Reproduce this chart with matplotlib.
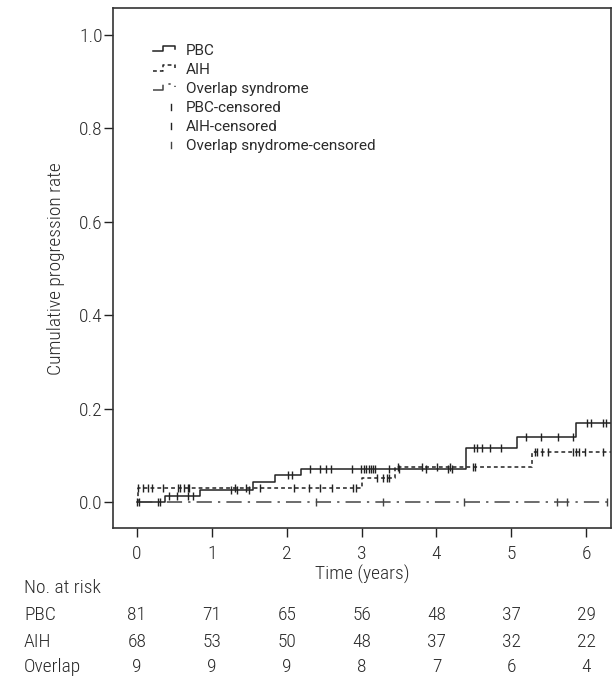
import matplotlib
matplotlib.use('Agg')
import matplotlib.pyplot as plt
import matplotlib.transforms as mtransforms
from matplotlib.legend_handler import HandlerBase
from matplotlib.lines import Line2D
from matplotlib import font_manager

# narrow font for axes / table, wider one for the legend
names = set(f.name for f in font_manager.fontManager.ttflist)
narrow = 'DejaVu Sans'
for fam in ['Roboto Condensed', 'Open Sans Condensed', 'Fira Sans Condensed',
            'PT Sans Narrow', 'Liberation Sans Narrow', 'Open Sans']:
    if fam in names:
        narrow = fam
        break
wide = 'DejaVu Sans'
for fam in ['Selawik', 'Segoe UI', 'Roboto', 'Open Sans']:
    if fam in names:
        wide = fam
        break
plt.rcParams['font.family'] = [narrow, 'DejaVu Sans']
plt.rcParams['font.weight'] = 'light'
plt.rcParams['axes.labelweight'] = 'light'

# Kaplan-Meier step data (time in years, cumulative progression)
pbc_time = [0, 0.37, 0.84, 1.55, 1.84, 2.19, 4.40, 5.08, 5.87, 6.5]
pbc_rate = [0, 0.012, 0.026, 0.043, 0.058, 0.071, 0.115, 0.139, 0.168, 0.168]
aih_time = [0, 0.01, 3.00, 3.45, 5.27, 6.5]
aih_rate = [0, 0.029, 0.051, 0.075, 0.107, 0.107]
ovl_time = [0, 6.5]
ovl_rate = [0, 0]

# censored observations
pbc_cens = [0.0, 0.03, 0.28, 0.31, 0.43, 0.54, 0.68, 0.75, 1.25, 1.34, 1.49,
            2.02, 2.07, 2.31, 2.45, 2.53, 2.59, 2.87, 2.99, 3.03, 3.06, 3.10,
            3.12, 3.15, 3.18, 3.37, 3.50, 3.86, 4.16, 4.21, 4.50, 4.54, 4.61,
            4.71, 4.86, 5.19, 5.40, 5.62, 5.83, 6.01, 6.06, 6.23, 6.27]
aih_cens = [0.01, 0.08, 0.15, 0.20, 0.35, 0.55, 0.57, 0.63, 0.68, 0.70, 1.31,
            1.45, 1.65, 2.10, 2.30, 2.45, 2.61, 2.89, 2.93, 3.20, 3.28, 3.34,
            3.36, 3.48, 3.81, 4.01, 4.18, 4.49, 4.52, 5.31, 5.34, 5.41, 5.49,
            5.82, 5.86, 5.91, 5.98, 6.23]
ovl_cens = [2.39, 3.28, 4.37, 5.61, 5.75, 6.28]

# number at risk table
risk_times = [0, 1, 2, 3, 4, 5, 6]
risk_groups = ['PBC', 'AIH', 'Overlap']
risk_pbc = [81, 71, 65, 56, 48, 37, 29]
risk_aih = [68, 53, 50, 48, 37, 32, 22]
risk_ovl = [9, 9, 9, 8, 7, 6, 4]

LS_PBC = '-'
LS_AIH = (0, (2.5, 2.0))
LS_OVL = (0, (10, 4, 1.5, 4))
FS = 14
TXT = '#2a2a2a'


def value_at(times, rates, t):
    v = rates[0]
    for ti, ri in zip(times, rates):
        if ti <= t:
            v = ri
    return v


class StepHandler(HandlerBase):
    def __init__(self, ls):
        super().__init__()
        self.ls = ls

    def create_artists(self, legend, orig_handle, xdescent, ydescent,
                       width, height, fontsize, trans):
        x0, y0 = -xdescent, -ydescent
        xs = [x0, x0 + width * 0.45, x0 + width * 0.45, x0 + width, x0 + width]
        ys = [y0 + height * 0.3, y0 + height * 0.3, y0 + height * 0.8,
              y0 + height * 0.8, y0 + height * 0.55]
        ln = Line2D(xs, ys, color=orig_handle.get_color(), linestyle=self.ls,
                    linewidth=orig_handle.get_linewidth(), transform=trans)
        return [ln]


class TickHandler(HandlerBase):
    def create_artists(self, legend, orig_handle, xdescent, ydescent,
                       width, height, fontsize, trans):
        x0, y0 = -xdescent, -ydescent
        ln = Line2D([x0 + width * 0.8, x0 + width * 0.8],
                    [y0 + height * 0.15, y0 + height * 0.7],
                    color=orig_handle.get_color(), linewidth=1.0, transform=trans)
        return [ln]


fig = plt.figure(figsize=(6.14, 6.79), dpi=100)
ax = fig.add_axes([0.184, 0.2224, 0.811, 0.7651])

line_kw = dict(color='#222222', linewidth=1.1)
p1, = ax.step(pbc_time, pbc_rate, where='post', linestyle=LS_PBC, **line_kw)
p2, = ax.step(aih_time, aih_rate, where='post', linestyle=LS_AIH, **line_kw)
p3, = ax.step(ovl_time, ovl_rate, where='post', linestyle=LS_OVL,
              color='#444444', linewidth=1.1)

c1, = ax.plot(pbc_cens, [value_at(pbc_time, pbc_rate, t) for t in pbc_cens],
              linestyle='none', marker='|', markersize=6, color='#222222', mew=1.0)
c2, = ax.plot(aih_cens, [value_at(aih_time, aih_rate, t) for t in aih_cens],
              linestyle='none', marker='|', markersize=6, color='#222222', mew=1.0)
c3, = ax.plot(ovl_cens, [0] * len(ovl_cens),
              linestyle='none', marker='|', markersize=6, color='#444444', mew=1.0)

ax.set_xlim(-0.32, 6.33)
ax.set_ylim(-0.056, 1.057)
ax.set_xticks(risk_times)
ax.set_yticks([0.0, 0.2, 0.4, 0.6, 0.8, 1.0])
ax.set_yticklabels(['0.0', '0.2', '0.4', '0.6', '0.8', '1.0'])
ax.tick_params(axis='both', labelsize=FS, direction='out', length=6.5, width=1.0,
               colors='#222222', labelcolor=TXT)
ax.tick_params(axis='y', pad=1)
ax.tick_params(axis='x', pad=6)
for s in ax.spines.values():
    s.set_linewidth(1.2)
    s.set_color('#333333')
ax.set_ylabel('Cumulative progression rate', fontsize=FS, color=TXT, labelpad=10)
ax.set_xlabel('Time (years)', fontsize=FS, color=TXT, labelpad=1)

leg = ax.legend([p1, p2, p3, c1, c2, c3],
                ['PBC', 'AIH', 'Overlap syndrome', 'PBC-censored', 'AIH-censored',
                 'Overlap snydrome-censored'],
                handler_map={p1: StepHandler(LS_PBC), p2: StepHandler(LS_AIH),
                             p3: StepHandler(LS_OVL),
                             c1: TickHandler(), c2: TickHandler(), c3: TickHandler()},
                loc='upper left', bbox_to_anchor=(0.068, 0.944), frameon=False,
                prop={'family': [wide, 'DejaVu Sans'], 'size': 11, 'weight': 'normal'},
                handlelength=1.45, handletextpad=0.7, labelspacing=0.33,
                borderaxespad=0)
for t in leg.get_texts():
    t.set_color(TXT)

# number at risk
trans = mtransforms.blended_transform_factory(ax.transData, fig.transFigure)
fig.text(0.039, 0.134, 'No. at risk', fontsize=FS, va='center', color=TXT)
rows = [risk_pbc, risk_aih, risk_ovl]
ys = [0.094, 0.054, 0.017]
for name, vals, y in zip(risk_groups, rows, ys):
    fig.text(0.039, y, name, fontsize=FS, va='center', color=TXT)
    for t, v in zip(risk_times, vals):
        ax.text(t, y, str(v), transform=trans, fontsize=FS, ha='center', va='center',
                color=TXT, clip_on=False)

fig.savefig('out.png', dpi=100)
